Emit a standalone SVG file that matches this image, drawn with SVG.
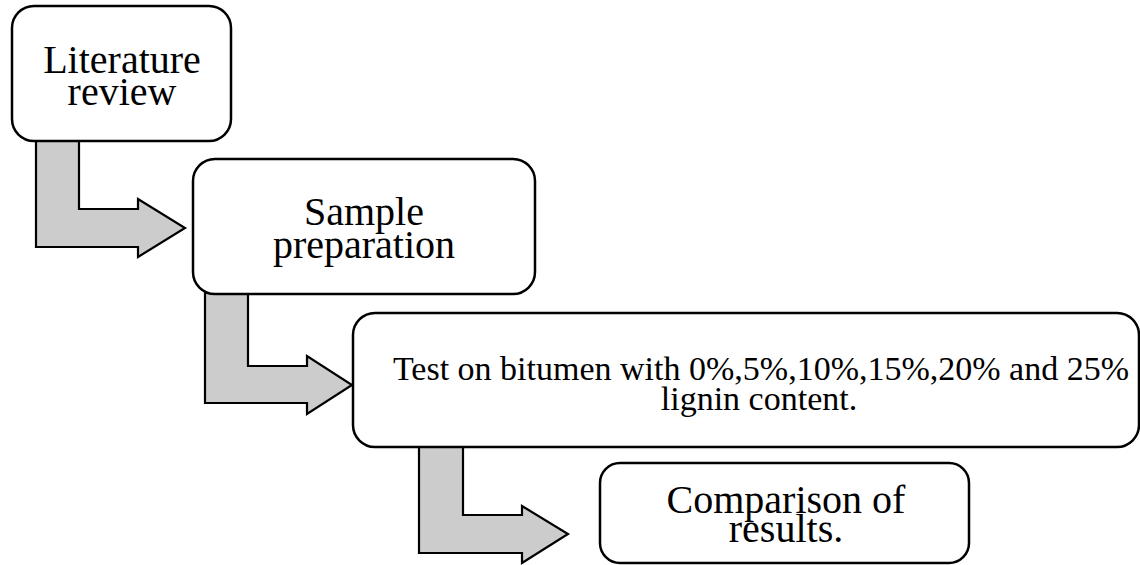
<svg xmlns="http://www.w3.org/2000/svg" width="1140" height="565" viewBox="0 0 1140 565">
<style>
.box{fill:#fff;stroke:#000;stroke-width:2.5}
.arr{fill:#cccccc;stroke:#000;stroke-width:2.2;stroke-linejoin:miter}
.t{font-family:"Liberation Serif","Times New Roman",serif;font-size:40px;fill:#000;text-anchor:middle}
.s{font-size:34px}
</style>
<rect width="1140" height="565" fill="#fff"/>
<g id="connectors">
<polygon class="arr" points="36,140 79,140 79,209 138,209 138,199 185,228 138,257 138,247 36,247"/>
<polygon class="arr" points="205,293 248,293 248,366 307,366 307,356 352,385 307,414 307,403 205,403"/>
<polygon class="arr" points="419,446 463,446 463,515 522,515 522,506 568,534 522,563 522,553 419,553"/>
</g>
<g id="node1">
<rect class="box" x="12" y="6" width="219" height="135" rx="22"/>
<text class="t" x="122" y="73">Literature<tspan x="122" dy="32">review</tspan></text>
</g>
<g id="node2">
<rect class="box" x="193" y="159" width="342" height="135" rx="22"/>
<text class="t" x="364" y="225">Sample<tspan x="364" dy="33">preparation</tspan></text>
</g>
<g id="node3">
<rect class="box" x="353" y="313" width="786" height="134" rx="22"/>
<text class="t s" x="761" y="380">Test on bitumen with 0%,5%,10%,15%,20%  and 25%<tspan x="759" dy="30">lignin content.</tspan></text>
</g>
<g id="node4">
<rect class="box" x="600" y="463" width="369" height="100" rx="20"/>
<text class="t" x="786" y="513">Comparison of<tspan x="786" dy="29">results.</tspan></text>
</g>
</svg>
